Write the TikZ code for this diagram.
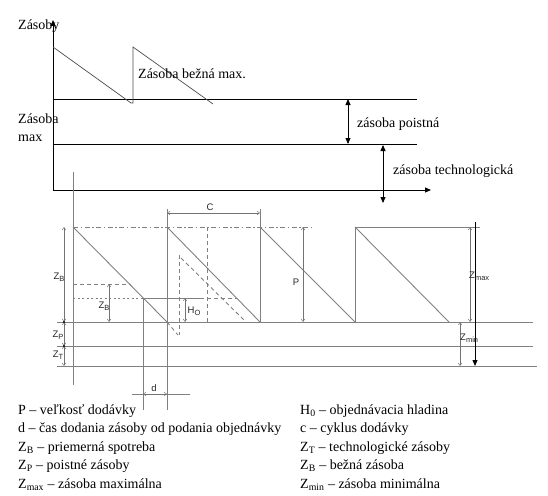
\documentclass[tikz,border=0pt]{standalone}
\usepackage{fontspec}
\setmainfont{Liberation Serif}
\newfontfamily\lblfont{Liberation Sans}
\usetikzlibrary{arrows.meta}
\newcommand\lsub[1]{\raisebox{-2.2pt}{\fontsize{7.5}{8}\selectfont #1}}
\begin{document}
\begin{tikzpicture}[x=1pt,y=-1pt,
  axis/.style={draw=black, line width=0.8pt},
  saw/.style={draw=black!70, line width=0.7pt},
  gl/.style={draw=black!50, line width=0.9pt},
  gdash/.style={gl, dash pattern=on 4pt off 3pt},
  gdashdot/.style={gl, dash pattern=on 5pt off 2.5pt on 1.5pt off 2.5pt},
  gdot/.style={gl, dash pattern=on 2pt off 2.5pt},
  dimarrow/.style={draw=black!55, line width=0.5pt, {Straight Barb[length=2.5pt,width=3.5pt]}-{Straight Barb[length=2.5pt,width=3.5pt]}},
  bigarrow/.style={draw=black, line width=0.8pt, {Triangle[length=6pt,width=5pt]}-{Triangle[length=6pt,width=5pt]}},
  txt/.style={font=\fontsize{14}{16}\selectfont, inner sep=0pt, anchor=base west},
  lbl/.style={font=\lblfont\fontsize{9.5}{11}\selectfont, inner sep=0pt, text=black!85},
  jdot/.style={fill=black, inner sep=0pt, minimum size=2.4pt, circle},
]
\useasboundingbox (0,0) rectangle (548,495);

% ---------- top chart ----------
\coordinate (O) at (53,190);
\coordinate (Ytop) at (53,20);
\coordinate (Xend) at (431,190);
\coordinate (L1a) at (53,99);   \coordinate (L1b) at (417,99);
\coordinate (L2a) at (53,144);  \coordinate (L2b) at (417,144);
\draw[axis,-{Triangle[length=6pt,width=5pt]}] (O) -- (Ytop);
\draw[axis,-{Triangle[length=6pt,width=5pt]}] (O) -- (Xend);
\draw[axis] (L1a) -- (L1b);
\draw[axis] (L2a) -- (L2b);
\draw[saw] (53,47) -- (131,103) -- (133,103) -- (133,47) -- (213,104);
\coordinate (PA1) at (348,99);  \coordinate (PA2) at (348,144);
\coordinate (TA1) at (383,145); \coordinate (TA2) at (383,203);
\draw[bigarrow] (PA1) -- (PA2);
\draw[bigarrow] (TA1) -- (TA2);
\node[txt] (tzas) at (18,30) {Zásoby};
\node[txt] (tbez) at (138,78) {Zásoba bežná max.};
\node[txt] (tmax1) at (18,123) {Zásoba};
\node[txt] (tmax2) at (18,141) {max};
\node[txt] (tpoi) at (357,127) {zásoba poistná};
\node[txt] (ttec) at (393,174) {zásoba technologická};

% ---------- lower chart ----------
\draw[gl] (73,172) -- (73,385);
\draw[gl] (57,322) -- (533,322);
\draw[gl] (57,346) -- (533,346);
\draw[gl] (57,366) -- (537,366);
\draw[gl] (167,209) -- (167,410);
\draw[gl] (143,298) -- (143,410);
\draw[gl] (260,209) -- (260,322);
\draw[gl] (355,227) -- (355,322);
\draw[gl] (73,227) -- (167,322);
\draw[gl] (167,227) -- (260,322);
\draw[gl] (260,227) -- (355,322);
\draw[gl] (355,227) -- (449,322);
\draw[gl] (355,227) -- (480,227);
\draw[gdashdot] (73,227) -- (312,227);
\draw[gdash] (167,322) -- (178,335);
\draw[gdash] (207,227) -- (207,322);
\draw[gdash] (179,255) -- (179,335);
\draw[gdash] (181,258) -- (245,321);
\draw[gdash] (73,284) -- (131,284);
\draw[gdot] (73,298) -- (143,298);
\draw[gl] (143,298) -- (200,298);
\draw[gdash] (200,298) -- (237,298);
\draw[gl] (132,394) -- (190,394);

% dimension arrows
\draw[dimarrow] (167,213) -- (260,213);
\draw[dimarrow] (64,227) -- (64,322);
\draw[dimarrow] (64,322) -- (64,346);
\draw[dimarrow] (64,346) -- (64,366);
\draw[dimarrow] (109,284) -- (109,322);
\draw[dimarrow] (185,298) -- (185,322);
\draw[dimarrow] (303,227) -- (303,322);
\draw[dimarrow] (470,227) -- (470,322);
\draw[dimarrow] (460,322) -- (460,366);
\draw[dimarrow] (143,394) -- (167,394);
\node[jdot] (j1) at (64,322) {};
\node[jdot] (j2) at (64,346) {};
\draw[draw=black, line width=0.8pt, -{Triangle[length=6pt,width=5pt]}] (475,222) -- (475,366);

% labels
\node[lbl] (lc) at (210,207) {C};
\node[lbl] (lzb1) at (59,277) {Z\lsub{B}};
\node[lbl] (lzb2) at (104,306) {Z\lsub{B}};
\node[lbl] (lho) at (194,311) {H\lsub{O}};
\node[lbl] (lzp) at (58,335) {Z\lsub{P}};
\node[lbl] (lzt) at (58,355) {Z\lsub{T}};
\node[lbl] (lp) at (296,282) {P};
\node[lbl] (ld) at (154,388) {d};
\node[lbl, anchor=west] (lzmax) at (469,276) {Z\lsub{max}};
\node[lbl, anchor=west] (lzmin) at (460,338) {Z\lsub{min}};

% ---------- legend ----------
\node[txt] (g1) at (18,414) {P – veľkosť dodávky};
\node[txt] (g2) at (18,432.5) {d – čas dodania zásoby od podania objednávky};
\node[txt] (g3) at (18,451) {Z\textsubscript{B} – priemerná spotreba};
\node[txt] (g4) at (18,469.5) {Z\textsubscript{P} – poistné zásoby};
\node[txt] (g5) at (18,488) {Z\textsubscript{max} – zásoba maximálna};
\node[txt] (h1) at (300,414) {H\textsubscript{0} – objednávacia hladina};
\node[txt] (h2) at (300,432.5) {c – cyklus dodávky};
\node[txt] (h3) at (300,451) {Z\textsubscript{T} – technologické zásoby};
\node[txt] (h4) at (300,469.5) {Z\textsubscript{B} – bežná zásoba};
\node[txt] (h5) at (300,488) {Z\textsubscript{min} – zásoba minimálna};
\end{tikzpicture}
\end{document}
